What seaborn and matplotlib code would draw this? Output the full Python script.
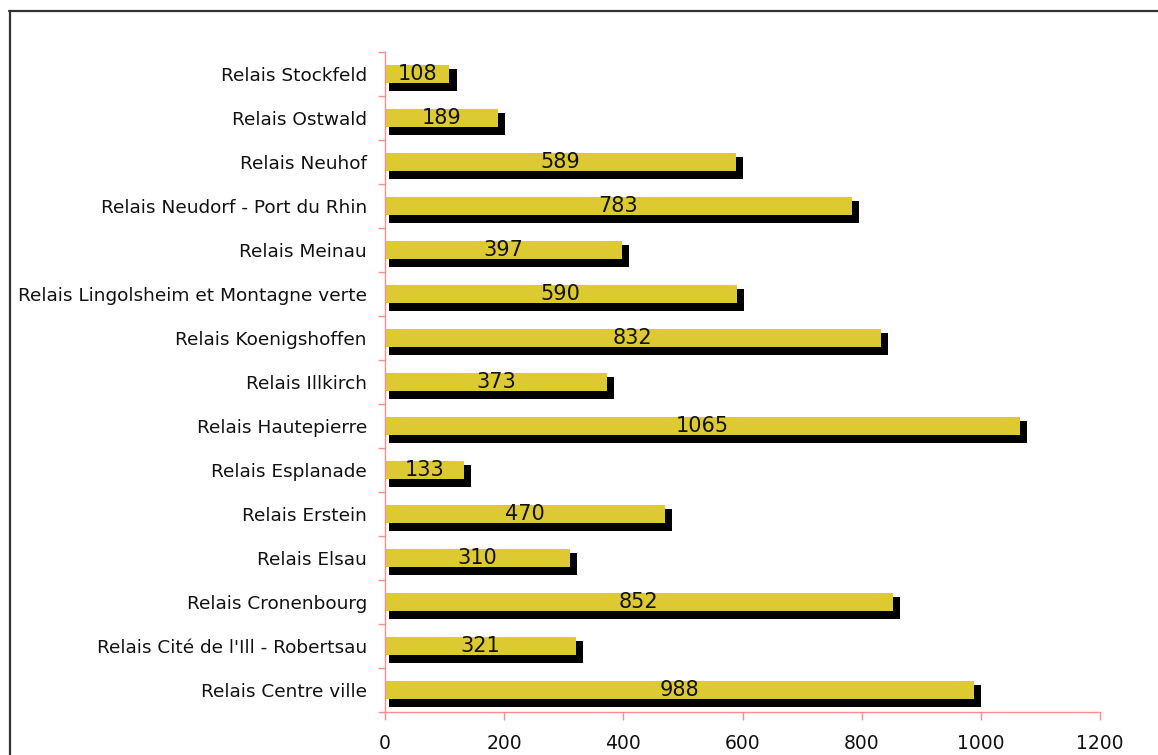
import numpy as np
import pandas as pd
import matplotlib
matplotlib.use("Agg")
import matplotlib.pyplot as plt
import seaborn as sns

relais = ["Relais Stockfeld", "Relais Ostwald", "Relais Neuhof",
          "Relais Neudorf - Port du Rhin", "Relais Meinau",
          "Relais Lingolsheim et Montagne verte", "Relais Koenigshoffen",
          "Relais Illkirch", "Relais Hautepierre", "Relais Esplanade",
          "Relais Erstein", "Relais Elsau", "Relais Cronenbourg",
          "Relais Cité de l'Ill - Robertsau", "Relais Centre ville"]
valeurs = [108, 189, 589, 783, 397, 590, 832, 373, 1065, 133, 470, 310, 852, 321, 988]
x_ticks = [0, 200, 400, 600, 800, 1000, 1200]

df = pd.DataFrame({"relais": relais, "valeur": valeurs})

sns.set_style("white")
plt.rcParams['font.family'] = ['DejaVu Sans']

fig = plt.figure(figsize=(11.58, 7.55), dpi=100)
ax = fig.add_axes([0.3325, 0.057, 0.6174, 0.874])

pink = "#FF8C8C"
yellow = "#DDCA33"

# ombre noire derrière chaque barre
pos = np.arange(len(relais))
ax.barh(pos + 0.136, df["valeur"] + 5, left=7, height=0.5, color="black",
        linewidth=0, zorder=1)

sns.barplot(data=df, x="valeur", y="relais", color=yellow, saturation=1,
            width=0.41, linewidth=0, ax=ax, zorder=2)

for p, v in zip(pos, valeurs):
    ax.text(v / 2, p, str(v), ha="center", va="center", fontsize=15,
            color="#111111", zorder=3)

ax.set_xlim(0, 1200)
ax.set_ylim(len(relais) - 0.5, -0.5)
ax.set_xticks(x_ticks)
ax.set_xticklabels([str(t) for t in x_ticks], fontsize=13.5, color="#111111")
ax.set_yticks(pos)
ax.set_yticklabels(relais, fontsize=13.3, color="#111111")
ax.set_yticks(np.arange(len(relais) + 1) - 0.5, minor=True)
ax.tick_params(axis="y", which="major", left=False, length=0, pad=13)
ax.tick_params(axis="y", which="minor", left=True, length=5, color=pink, width=1)
ax.tick_params(axis="x", bottom=True, length=6, color=pink, width=1, pad=10)
ax.set_xlabel("")
ax.set_ylabel("")

for s in ["top", "right"]:
    ax.spines[s].set_visible(False)
for s in ["left", "bottom"]:
    ax.spines[s].set_color(pink)
    ax.spines[s].set_linewidth(1)

# cadre extérieur (haut et gauche visibles)
fig.add_artist(plt.Line2D([9 / 1158, 1.0], [1 - 10.5 / 755] * 2, color="#333333", lw=1.6))
fig.add_artist(plt.Line2D([9.5 / 1158] * 2, [0.0, 1 - 10.5 / 755], color="#333333", lw=1.6))

fig.savefig("out.png", dpi=100)
